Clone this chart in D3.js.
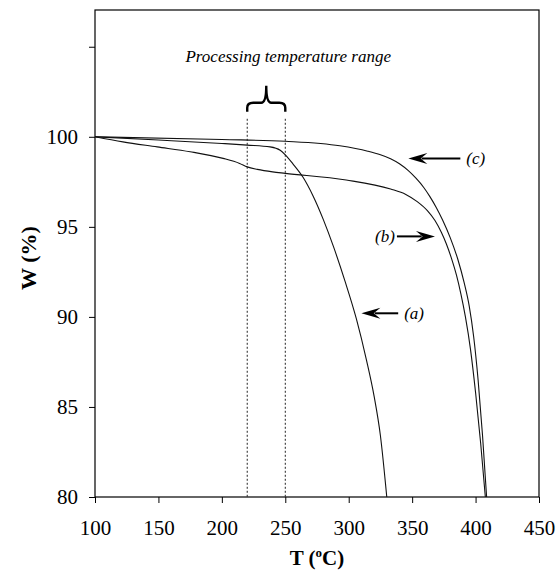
<!DOCTYPE html>
<html>
<head>
<meta charset="utf-8">
<script src="https://cdn.jsdelivr.net/npm/d3@7"></script>
<style>
  body { margin: 0; background: #fff; }
  text { font-family: "Liberation Serif", "DejaVu Serif", serif; }
</style>
</head>
<body>
<svg id="chart" width="557" height="576"></svg>
<script>
// axis ticks
const tempTicks = [100, 150, 200, 250, 300, 350, 400, 450];
const weightTicks = [80, 85, 90, 95, 100, 105];

// curve (a)
const tempA = [100, 150, 200, 220, 238, 246, 250, 256, 264, 272, 280, 288, 297, 306, 314, 320, 325, 330];
const weightA = [100, 99.82, 99.63, 99.54, 99.44, 99.25, 99.0, 98.5, 97.75, 96.7, 95.4, 93.9, 92.0, 89.9, 87.6, 85.6, 83.4, 80];

// curve (b)
const tempB = [100, 122, 149, 175, 201, 214, 220, 228, 240, 250, 298, 333, 345, 354, 362, 368, 373, 377, 381, 385, 388.5, 392, 396, 400, 404, 407.7];
const weightB = [100, 99.72, 99.44, 99.17, 98.8, 98.52, 98.33, 98.19, 98.05, 97.97, 97.6, 97.1, 96.8, 96.4, 95.9, 95.35, 94.7, 94.05, 93.25, 92.3, 91.25, 90.0, 88.2, 85.8, 83.0, 80];

// curve (c)
const tempC = [100, 200, 250, 293, 315, 325, 333, 340, 347, 353, 359, 364, 369, 374, 380, 386, 391, 395, 398.5, 402, 405.5, 408.7];
const weightC = [100, 99.85, 99.75, 99.5, 99.2, 99.0, 98.78, 98.5, 98.12, 97.7, 97.2, 96.68, 96.08, 95.38, 94.4, 93.2, 91.9, 90.6, 88.9, 86.5, 83.4, 80];

// processing range and arrows
const processRange = [220, 250];
const arrows = [
  { label: '(a)', tip: [310, 90.2], tail: [339, 90.2] },
  { label: '(b)', tip: [368, 94.47], tail: [338, 94.47] },
  { label: '(c)', tip: [347, 98.8], tail: [388, 98.8] }
];

const svg = d3.select('#chart'),
  margin = { top: 10, right: 18, bottom: 79, left: 95 },
  width = +svg.attr('width') - margin.left - margin.right,
  height = +svg.attr('height') - margin.top - margin.bottom;

const graph = svg.append('g')
  .attr('transform', `translate(${margin.left}, ${margin.top})`);

const x = d3.scaleLinear().domain([100, 450]).range([0, width]);
const y = d3.scaleLinear().domain([80, 107.04]).range([height, 0]);

// axes
const xAxis = d3.axisBottom(x).tickValues(tempTicks).tickSize(6).tickPadding(17);
const yAxis = d3.axisLeft(y).tickValues(weightTicks).tickSize(6).tickPadding(11)
  .tickFormat(d => d === 105 ? '' : d);

const xAxisGroup = graph.append('g')
  .attr('transform', `translate(0, ${height})`)
  .call(xAxis);
const yAxisGroup = graph.append('g').call(yAxis);

[xAxisGroup, yAxisGroup].forEach(g => {
  g.select('.domain').remove();
  g.selectAll('line').attr('stroke', '#000').attr('stroke-width', 1);
  g.selectAll('text').attr('font-size', 21).attr('fill', '#000')
    .style('font-family', '"Liberation Serif", serif');
});

// frame
graph.append('rect')
  .attr('width', width).attr('height', height)
  .attr('fill', 'none').attr('stroke', '#000').attr('stroke-width', 1.2);

// dotted lines for processing range
graph.selectAll('.range-line')
  .data(processRange)
  .enter().append('line')
  .attr('x1', d => x(d)).attr('x2', d => x(d))
  .attr('y1', y(101)).attr('y2', height)
  .attr('stroke', '#222').attr('stroke-width', 1)
  .attr('stroke-dasharray', '2,2');

// brace
const bx1 = x(processRange[0]), bx2 = x(processRange[1]), bm = (bx1 + bx2) / 2;
const yEnd = y(101) - 7, yH = y(101) - 16, yPeak = y(101) - 33;
graph.append('path')
  .attr('d', `M${bx1},${yEnd} L${bx1},${yH + 5} Q${bx1},${yH} ${bx1 + 6},${yH} L${bm - 5},${yH} Q${bm},${yH} ${bm},${yPeak}
              Q${bm},${yH} ${bm + 5},${yH} L${bx2 - 6},${yH} Q${bx2},${yH} ${bx2},${yH + 5} L${bx2},${yEnd}`)
  .attr('fill', 'none').attr('stroke', '#000').attr('stroke-width', 2.4);

graph.append('text')
  .attr('x', bm + 22).attr('y', yPeak - 24)
  .attr('text-anchor', 'middle')
  .attr('font-size', 17).attr('font-style', 'italic')
  .text('Processing temperature range');

// curves
const line = d3.line()
  .x(d => x(d[0])).y(d => y(d[1]))
  .curve(d3.curveMonotoneX);

const series = [
  d3.zip(tempA, weightA),
  d3.zip(tempB, weightB),
  d3.zip(tempC, weightC)
];

graph.selectAll('.curve')
  .data(series)
  .enter().append('path')
  .attr('d', line)
  .attr('fill', 'none').attr('stroke', '#111').attr('stroke-width', 1.1);

// arrows with labels
arrows.forEach(a => {
  const tx = x(a.tip[0]), ty = y(a.tip[1]);
  const lx = x(a.tail[0]), ly = y(a.tail[1]);
  const dir = Math.sign(lx - tx);
  const L = 19, h = 5.5;
  graph.append('line')
    .attr('x1', tx + dir * L * 0.7).attr('y1', ty)
    .attr('x2', lx).attr('y2', ly)
    .attr('stroke', '#000').attr('stroke-width', 2);
  graph.append('path')
    .attr('d', `M${tx},${ty} L${tx + dir * L},${ty - h} L${tx + dir * L * 0.65},${ty} L${tx + dir * L},${ty + h} Z`)
    .attr('fill', '#000');
  graph.append('text')
    .attr('x', dir > 0 ? lx + 6 : lx - 2)
    .attr('y', ty + 6)
    .attr('text-anchor', dir > 0 ? 'start' : 'end')
    .attr('font-size', 17).attr('font-style', 'italic')
    .text(a.label);
});

// axis titles
const xTitle = svg.append('text')
  .attr('x', margin.left + width / 2)
  .attr('y', 565)
  .attr('text-anchor', 'middle')
  .attr('font-size', 21).attr('font-weight', 'bold');
xTitle.append('tspan').text('T (');
xTitle.append('tspan').attr('font-size', 13).attr('dy', -8).text('o');
xTitle.append('tspan').attr('dy', 8).text('C)');

svg.append('text')
  .attr('transform', `translate(36, 258) rotate(-90)`)
  .attr('text-anchor', 'middle')
  .attr('font-size', 22).attr('font-weight', 'bold')
  .text('W (%)');
</script>
</body>
</html>
